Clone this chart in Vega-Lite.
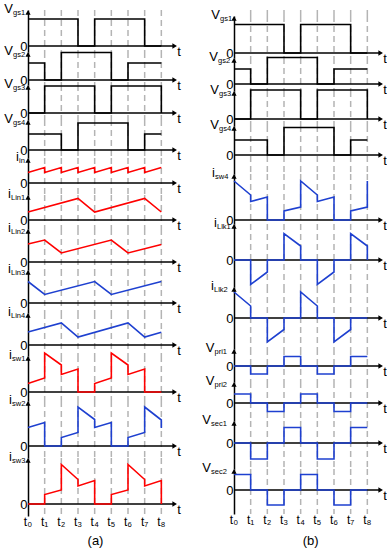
{
"$schema": "https://vega.github.io/schema/vega-lite/v6.json",
"padding": {"left": 4, "top": 3, "right": 0, "bottom": 0},
"config": {
 "view": {"stroke": null},
 "font": "Liberation Sans",
 "axisX": {"disable": true},
 "axisY": {"grid": false, "domain": true, "domainColor": "black", "domainWidth": 1.5, "ticks": false, "labelFontSize": 13, "labelColor": "black", "labelPadding": 1, "labelBaseline": "middle", "labelFont": "Liberation Sans"},
 "text": {"font": "Liberation Sans", "color": "black"},
 "rule": {"color": "black"},
 "concat": {"spacing": 0}
},
"datasets": {
 "ticks": [{"k":1},{"k":2},{"k":3},{"k":4},{"k":5},{"k":6},{"k":7},{"k":8}],
 "tlab": [{"k":0,"lab":"t₀"},{"k":1,"lab":"t₁"},{"k":2,"lab":"t₂"},{"k":3,"lab":"t₃"},{"k":4,"lab":"t₄"},{"k":5,"lab":"t₅"},{"k":6,"lab":"t₆"},{"k":7,"lab":"t₇"},{"k":8,"lab":"t₈"}],
 "a_Vgs1": [{"t":0,"v":2.7},{"t":3,"v":2.7},{"t":3,"v":0},{"t":4,"v":0},{"t":4,"v":2.7},{"t":7,"v":2.7},{"t":7,"v":0},{"t":8,"v":0}],
 "a_Vgs2": [{"t":0,"v":1.7},{"t":1,"v":1.7},{"t":1,"v":0},{"t":2,"v":0},{"t":2,"v":2.75},{"t":5,"v":2.75},{"t":5,"v":0},{"t":6,"v":0},{"t":6,"v":1.7},{"t":8,"v":1.7}],
 "a_Vgs3": [{"t":0,"v":0},{"t":1,"v":0},{"t":1,"v":2.7},{"t":4,"v":2.7},{"t":4,"v":0},{"t":5,"v":0},{"t":5,"v":2.7},{"t":8,"v":2.7},{"t":8,"v":0}],
 "a_Vgs4": [{"t":0,"v":1.6},{"t":2,"v":1.6},{"t":2,"v":0},{"t":3,"v":0},{"t":3,"v":2.7},{"t":6,"v":2.7},{"t":6,"v":0},{"t":7,"v":0},{"t":7,"v":1.6},{"t":8,"v":1.6}],
 "a_iin": [{"t":0,"v":1.05},{"t":1,"v":1.55},{"t":1,"v":1.05},{"t":2,"v":1.55},{"t":2,"v":1.05},{"t":3,"v":1.55},{"t":3,"v":1.05},{"t":4,"v":1.55},{"t":4,"v":1.05},{"t":5,"v":1.55},{"t":5,"v":1.05},{"t":6,"v":1.55},{"t":6,"v":1.05},{"t":7,"v":1.55},{"t":7,"v":1.05},{"t":8,"v":1.55}],
 "a_iLin1": [{"t":0,"v":0.8},{"t":3,"v":2.15},{"t":4,"v":0.8},{"t":7,"v":2.15},{"t":8,"v":0.8}],
 "a_iLin2": [{"t":0,"v":1.8},{"t":1,"v":2.2},{"t":2,"v":0.9},{"t":5,"v":2.2},{"t":6,"v":0.9},{"t":8,"v":1.75}],
 "a_iLin3": [{"t":0,"v":2.15},{"t":1,"v":0.85},{"t":4,"v":2.15},{"t":5,"v":0.85},{"t":8,"v":2.15}],
 "a_iLin4": [{"t":0,"v":1.3},{"t":2,"v":2.2},{"t":3,"v":0.8},{"t":6,"v":2.2},{"t":7,"v":0.8},{"t":8,"v":1.27}],
 "a_isw1": [{"t":0,"v":0.85},{"t":1,"v":1.4},{"t":1,"v":3.9},{"t":2,"v":2.7},{"t":2,"v":1.75},{"t":3,"v":2.3},{"t":3,"v":0},{"t":4,"v":0},{"t":4,"v":0.85},{"t":5,"v":1.4},{"t":5,"v":3.9},{"t":6,"v":2.7},{"t":6,"v":1.75},{"t":7,"v":2.3},{"t":7,"v":0},{"t":8,"v":0}],
 "a_isw2": [{"t":0,"v":1.85},{"t":1,"v":2.35},{"t":1,"v":0},{"t":2,"v":0},{"t":2,"v":0.85},{"t":3,"v":1.35},{"t":3,"v":3.9},{"t":4,"v":2.65},{"t":4,"v":1.85},{"t":5,"v":2.35},{"t":5,"v":0},{"t":6,"v":0},{"t":6,"v":0.85},{"t":7,"v":1.35},{"t":7,"v":3.9},{"t":8,"v":2.6},{"t":8,"v":1.8}],
 "a_isw3": [{"t":0,"v":0},{"t":1,"v":0},{"t":1,"v":0.95},{"t":2,"v":1.4},{"t":2,"v":3.95},{"t":3,"v":2.45},{"t":3,"v":1.8},{"t":4,"v":2.35},{"t":4,"v":0},{"t":5,"v":0},{"t":5,"v":0.95},{"t":6,"v":1.4},{"t":6,"v":3.95},{"t":7,"v":2.45},{"t":7,"v":1.8},{"t":8,"v":2.35},{"t":8,"v":0}],
 "b_Vgs1": [{"t":0,"v":2.85},{"t":3,"v":2.85},{"t":3,"v":0},{"t":4,"v":0},{"t":4,"v":2.85},{"t":7,"v":2.85},{"t":7,"v":0},{"t":8,"v":0}],
 "b_Vgs2": [{"t":0,"v":1.5},{"t":1,"v":1.5},{"t":1,"v":0},{"t":2,"v":0},{"t":2,"v":2.65},{"t":5,"v":2.65},{"t":5,"v":0},{"t":6,"v":0},{"t":6,"v":1.5},{"t":8,"v":1.5}],
 "b_Vgs3": [{"t":0,"v":0},{"t":1,"v":0},{"t":1,"v":2.9},{"t":4,"v":2.9},{"t":4,"v":0},{"t":5,"v":0},{"t":5,"v":2.9},{"t":8,"v":2.9},{"t":8,"v":0}],
 "b_Vgs4": [{"t":0,"v":1.5},{"t":2,"v":1.5},{"t":2,"v":0},{"t":3,"v":0},{"t":3,"v":2.75},{"t":6,"v":2.75},{"t":6,"v":0},{"t":7,"v":0},{"t":7,"v":1.5},{"t":8,"v":1.5}],
 "b_isw4": [{"t":0,"v":3.9},{"t":1,"v":2.5},{"t":1,"v":1.85},{"t":2,"v":2.3},{"t":2,"v":0},{"t":3,"v":0},{"t":3,"v":0.9},{"t":4,"v":1.3},{"t":4,"v":3.9},{"t":5,"v":2.5},{"t":5,"v":1.85},{"t":6,"v":2.3},{"t":6,"v":0},{"t":7,"v":0},{"t":7,"v":0.9},{"t":8,"v":1.3},{"t":8,"v":3.9}],
 "b_iLlk1": [{"t":0,"v":0},{"t":1,"v":0},{"t":1,"v":-2.45},{"t":2,"v":-1.2},{"t":2,"v":0},{"t":3,"v":0},{"t":3,"v":2.65},{"t":4,"v":1.4},{"t":4,"v":0},{"t":5,"v":0},{"t":5,"v":-2.45},{"t":6,"v":-1.2},{"t":6,"v":0},{"t":7,"v":0},{"t":7,"v":2.65},{"t":8,"v":1.4},{"t":8,"v":0}],
 "b_iLlk2": [{"t":0,"v":2.6},{"t":1,"v":1.2},{"t":1,"v":0},{"t":2,"v":0},{"t":2,"v":-2.4},{"t":3,"v":-1.15},{"t":3,"v":0},{"t":4,"v":0},{"t":4,"v":2.6},{"t":5,"v":1.2},{"t":5,"v":0},{"t":6,"v":0},{"t":6,"v":-2.4},{"t":7,"v":-1.15},{"t":7,"v":0},{"t":8,"v":0}],
 "b_Vpri1": [{"t":0,"v":0},{"t":1,"v":0},{"t":1,"v":-0.8},{"t":2,"v":-0.8},{"t":2,"v":0},{"t":3,"v":0},{"t":3,"v":0.95},{"t":4,"v":0.95},{"t":4,"v":0},{"t":5,"v":0},{"t":5,"v":-0.8},{"t":6,"v":-0.8},{"t":6,"v":0},{"t":7,"v":0},{"t":7,"v":0.95},{"t":8,"v":0.95}],
 "b_Vpri2": [{"t":0,"v":0.9},{"t":1,"v":0.9},{"t":1,"v":0},{"t":2,"v":0},{"t":2,"v":-0.85},{"t":3,"v":-0.85},{"t":3,"v":0},{"t":4,"v":0},{"t":4,"v":0.9},{"t":5,"v":0.9},{"t":5,"v":0},{"t":6,"v":0},{"t":6,"v":-0.85},{"t":7,"v":-0.85},{"t":7,"v":0},{"t":8,"v":0}],
 "b_Vsec1": [{"t":0,"v":0},{"t":1,"v":0},{"t":1,"v":-1.6},{"t":2,"v":-1.6},{"t":2,"v":0},{"t":3,"v":0},{"t":3,"v":1.55},{"t":4,"v":1.55},{"t":4,"v":0},{"t":5,"v":0},{"t":5,"v":-1.6},{"t":6,"v":-1.6},{"t":6,"v":0},{"t":7,"v":0},{"t":7,"v":1.55},{"t":8,"v":1.55}],
 "b_Vsec2": [{"t":0,"v":1.55},{"t":1,"v":1.55},{"t":1,"v":0},{"t":2,"v":0},{"t":2,"v":-1.5},{"t":3,"v":-1.5},{"t":3,"v":0},{"t":4,"v":0},{"t":4,"v":1.55},{"t":5,"v":1.55},{"t":5,"v":0},{"t":6,"v":0},{"t":6,"v":-1.5},{"t":7,"v":-1.5},{"t":7,"v":0},{"t":8,"v":0}]
},
"spacing": 21,
"hconcat": [
{"bounds": "flush", "spacing": 0, "vconcat": [
 {"width":150,"height":42,"data":{"values":[{}]},"layer":[
  {"data":{"name":"ticks"},"mark":{"type":"rule","strokeDash":[6,4],"color":"#b4b4b4","strokeWidth":1.5},"encoding":{"x":{"field":"k","type":"quantitative","scale":{"domain":[0,9],"nice":false,"zero":false}}}},
  {"mark":{"type":"rule","strokeWidth":1.5},"encoding":{"x":{"datum":0},"x2":{"datum":8.75},"y":{"datum":0}}},
  {"data":{"name":"a_Vgs1"},"mark":{"type":"line","color":"black","strokeWidth":1.6},"encoding":{"x":{"field":"t","type":"quantitative"},"y":{"field":"v","type":"quantitative","title":null,"scale":{"domain":[-0.6,3.6],"nice":false,"zero":false},"axis":{"values":[0]}}}},
  {"mark":{"type":"point","shape":"triangle-right","filled":true,"color":"black","size":28,"opacity":1},"encoding":{"x":{"datum":8.8},"y":{"datum":0}}},
  {"mark":{"type":"point","shape":"triangle-up","filled":true,"color":"black","size":28,"opacity":1},"encoding":{"x":{"datum":0},"y":{"datum":3.35}}},
  {"mark":{"type":"text","text":"t","fontSize":13,"dx":1,"dy":6},"encoding":{"x":{"datum":9},"y":{"datum":0}}},
  {"mark":{"type":"text","text":"V","fontSize":13,"align":"right","baseline":"alphabetic","dx":-15,"dy":3},"encoding":{"x":{"datum":0},"y":{"datum":3.6}}},
  {"mark":{"type":"text","text":"gs1","fontSize":7.5,"align":"left","baseline":"alphabetic","dx":-15,"dy":5},"encoding":{"x":{"datum":0},"y":{"datum":3.6}}}
 ]},
 {"width":150,"height":33,"data":{"values":[{}]},"layer":[
  {"data":{"name":"ticks"},"mark":{"type":"rule","strokeDash":[6,4],"color":"#b4b4b4","strokeWidth":1.5},"encoding":{"x":{"field":"k","type":"quantitative","scale":{"domain":[0,9],"nice":false,"zero":false}}}},
  {"mark":{"type":"rule","strokeWidth":1.5},"encoding":{"x":{"datum":0},"x2":{"datum":8.75},"y":{"datum":0}}},
  {"data":{"name":"a_Vgs2"},"mark":{"type":"line","color":"black","strokeWidth":1.6},"encoding":{"x":{"field":"t","type":"quantitative"},"y":{"field":"v","type":"quantitative","title":null,"scale":{"domain":[-0.5,2.8],"nice":false,"zero":false},"axis":{"values":[0]}}}},
  {"mark":{"type":"point","shape":"triangle-right","filled":true,"color":"black","size":28,"opacity":1},"encoding":{"x":{"datum":8.8},"y":{"datum":0}}},
  {"mark":{"type":"point","shape":"triangle-up","filled":true,"color":"black","size":28,"opacity":1},"encoding":{"x":{"datum":0},"y":{"datum":2.55}}},
  {"mark":{"type":"text","text":"t","fontSize":13,"dx":1,"dy":6},"encoding":{"x":{"datum":9},"y":{"datum":0}}},
  {"mark":{"type":"text","text":"V","fontSize":13,"align":"right","baseline":"alphabetic","dx":-15,"dy":3},"encoding":{"x":{"datum":0},"y":{"datum":2.8}}},
  {"mark":{"type":"text","text":"gs2","fontSize":7.5,"align":"left","baseline":"alphabetic","dx":-15,"dy":5},"encoding":{"x":{"datum":0},"y":{"datum":2.8}}}
 ]},
 {"width":150,"height":35,"data":{"values":[{}]},"layer":[
  {"data":{"name":"ticks"},"mark":{"type":"rule","strokeDash":[6,4],"color":"#b4b4b4","strokeWidth":1.5},"encoding":{"x":{"field":"k","type":"quantitative","scale":{"domain":[0,9],"nice":false,"zero":false}}}},
  {"mark":{"type":"rule","strokeWidth":1.5},"encoding":{"x":{"datum":0},"x2":{"datum":8.75},"y":{"datum":0}}},
  {"data":{"name":"a_Vgs3"},"mark":{"type":"line","color":"black","strokeWidth":1.6},"encoding":{"x":{"field":"t","type":"quantitative"},"y":{"field":"v","type":"quantitative","title":null,"scale":{"domain":[-0.7,2.8],"nice":false,"zero":false},"axis":{"values":[0]}}}},
  {"mark":{"type":"point","shape":"triangle-right","filled":true,"color":"black","size":28,"opacity":1},"encoding":{"x":{"datum":8.8},"y":{"datum":0}}},
  {"mark":{"type":"point","shape":"triangle-up","filled":true,"color":"black","size":28,"opacity":1},"encoding":{"x":{"datum":0},"y":{"datum":2.55}}},
  {"mark":{"type":"text","text":"t","fontSize":13,"dx":1,"dy":6},"encoding":{"x":{"datum":9},"y":{"datum":0}}},
  {"mark":{"type":"text","text":"V","fontSize":13,"align":"right","baseline":"alphabetic","dx":-15,"dy":3},"encoding":{"x":{"datum":0},"y":{"datum":2.8}}},
  {"mark":{"type":"text","text":"gs3","fontSize":7.5,"align":"left","baseline":"alphabetic","dx":-15,"dy":5},"encoding":{"x":{"datum":0},"y":{"datum":2.8}}}
 ]},
 {"width":150,"height":38,"data":{"values":[{}]},"layer":[
  {"data":{"name":"ticks"},"mark":{"type":"rule","strokeDash":[6,4],"color":"#b4b4b4","strokeWidth":1.5},"encoding":{"x":{"field":"k","type":"quantitative","scale":{"domain":[0,9],"nice":false,"zero":false}}}},
  {"mark":{"type":"rule","strokeWidth":1.5},"encoding":{"x":{"datum":0},"x2":{"datum":8.75},"y":{"datum":0}}},
  {"data":{"name":"a_Vgs4"},"mark":{"type":"line","color":"black","strokeWidth":1.6},"encoding":{"x":{"field":"t","type":"quantitative"},"y":{"field":"v","type":"quantitative","title":null,"scale":{"domain":[-0.8,3.0],"nice":false,"zero":false},"axis":{"values":[0]}}}},
  {"mark":{"type":"point","shape":"triangle-right","filled":true,"color":"black","size":28,"opacity":1},"encoding":{"x":{"datum":8.8},"y":{"datum":0}}},
  {"mark":{"type":"point","shape":"triangle-up","filled":true,"color":"black","size":28,"opacity":1},"encoding":{"x":{"datum":0},"y":{"datum":2.75}}},
  {"mark":{"type":"text","text":"t","fontSize":13,"dx":1,"dy":6},"encoding":{"x":{"datum":9},"y":{"datum":0}}},
  {"mark":{"type":"text","text":"V","fontSize":13,"align":"right","baseline":"alphabetic","dx":-15,"dy":3},"encoding":{"x":{"datum":0},"y":{"datum":3.0}}},
  {"mark":{"type":"text","text":"gs4","fontSize":7.5,"align":"left","baseline":"alphabetic","dx":-15,"dy":5},"encoding":{"x":{"datum":0},"y":{"datum":3.0}}}
 ]},
 {"width":150,"height":37,"data":{"values":[{}]},"layer":[
  {"data":{"name":"ticks"},"mark":{"type":"rule","strokeDash":[6,4],"color":"#b4b4b4","strokeWidth":1.5},"encoding":{"x":{"field":"k","type":"quantitative","scale":{"domain":[0,9],"nice":false,"zero":false}}}},
  {"mark":{"type":"rule","strokeWidth":1.5},"encoding":{"x":{"datum":0},"x2":{"datum":8.75},"y":{"datum":0}}},
  {"data":{"name":"a_iin"},"mark":{"type":"line","color":"#ff0000","strokeWidth":1.6},"encoding":{"x":{"field":"t","type":"quantitative"},"y":{"field":"v","type":"quantitative","title":null,"scale":{"domain":[-1.2,2.5],"nice":false,"zero":false},"axis":{"values":[0]}}}},
  {"mark":{"type":"point","shape":"triangle-right","filled":true,"color":"black","size":28,"opacity":1},"encoding":{"x":{"datum":8.8},"y":{"datum":0}}},
  {"mark":{"type":"point","shape":"triangle-up","filled":true,"color":"black","size":28,"opacity":1},"encoding":{"x":{"datum":0},"y":{"datum":2.25}}},
  {"mark":{"type":"text","text":"t","fontSize":13,"dx":1,"dy":6},"encoding":{"x":{"datum":9},"y":{"datum":0}}},
  {"mark":{"type":"text","text":"i","fontSize":13,"align":"right","baseline":"alphabetic","dx":-9,"dy":3},"encoding":{"x":{"datum":0},"y":{"datum":2.5}}},
  {"mark":{"type":"text","text":"in","fontSize":7.5,"align":"left","baseline":"alphabetic","dx":-9,"dy":5},"encoding":{"x":{"datum":0},"y":{"datum":2.5}}}
 ]},
 {"width":150,"height":34,"data":{"values":[{}]},"layer":[
  {"data":{"name":"ticks"},"mark":{"type":"rule","strokeDash":[6,4],"color":"#b4b4b4","strokeWidth":1.5},"encoding":{"x":{"field":"k","type":"quantitative","scale":{"domain":[0,9],"nice":false,"zero":false}}}},
  {"mark":{"type":"rule","strokeWidth":1.5},"encoding":{"x":{"datum":0},"x2":{"datum":8.75},"y":{"datum":0}}},
  {"data":{"name":"a_iLin1"},"mark":{"type":"line","color":"#ff0000","strokeWidth":1.6},"encoding":{"x":{"field":"t","type":"quantitative"},"y":{"field":"v","type":"quantitative","title":null,"scale":{"domain":[-0.9,2.5],"nice":false,"zero":false},"axis":{"values":[0]}}}},
  {"mark":{"type":"point","shape":"triangle-right","filled":true,"color":"black","size":28,"opacity":1},"encoding":{"x":{"datum":8.8},"y":{"datum":0}}},
  {"mark":{"type":"point","shape":"triangle-up","filled":true,"color":"black","size":28,"opacity":1},"encoding":{"x":{"datum":0},"y":{"datum":2.25}}},
  {"mark":{"type":"text","text":"t","fontSize":13,"dx":1,"dy":6},"encoding":{"x":{"datum":9},"y":{"datum":0}}},
  {"mark":{"type":"text","text":"i","fontSize":13,"align":"right","baseline":"alphabetic","dx":-17,"dy":3},"encoding":{"x":{"datum":0},"y":{"datum":2.5}}},
  {"mark":{"type":"text","text":"Lin1","fontSize":7.5,"align":"left","baseline":"alphabetic","dx":-17,"dy":5},"encoding":{"x":{"datum":0},"y":{"datum":2.5}}}
 ]},
 {"width":150,"height":41,"data":{"values":[{}]},"layer":[
  {"data":{"name":"ticks"},"mark":{"type":"rule","strokeDash":[6,4],"color":"#b4b4b4","strokeWidth":1.5},"encoding":{"x":{"field":"k","type":"quantitative","scale":{"domain":[0,9],"nice":false,"zero":false}}}},
  {"mark":{"type":"rule","strokeWidth":1.5},"encoding":{"x":{"datum":0},"x2":{"datum":8.75},"y":{"datum":0}}},
  {"data":{"name":"a_iLin2"},"mark":{"type":"line","color":"#ff0000","strokeWidth":1.6},"encoding":{"x":{"field":"t","type":"quantitative"},"y":{"field":"v","type":"quantitative","title":null,"scale":{"domain":[-0.8,3.3],"nice":false,"zero":false},"axis":{"values":[0]}}}},
  {"mark":{"type":"point","shape":"triangle-right","filled":true,"color":"black","size":28,"opacity":1},"encoding":{"x":{"datum":8.8},"y":{"datum":0}}},
  {"mark":{"type":"point","shape":"triangle-up","filled":true,"color":"black","size":28,"opacity":1},"encoding":{"x":{"datum":0},"y":{"datum":3.05}}},
  {"mark":{"type":"text","text":"t","fontSize":13,"dx":1,"dy":6},"encoding":{"x":{"datum":9},"y":{"datum":0}}},
  {"mark":{"type":"text","text":"i","fontSize":13,"align":"right","baseline":"alphabetic","dx":-17,"dy":3},"encoding":{"x":{"datum":0},"y":{"datum":3.3}}},
  {"mark":{"type":"text","text":"Lin2","fontSize":7.5,"align":"left","baseline":"alphabetic","dx":-17,"dy":5},"encoding":{"x":{"datum":0},"y":{"datum":3.3}}}
 ]},
 {"width":150,"height":43,"data":{"values":[{}]},"layer":[
  {"data":{"name":"ticks"},"mark":{"type":"rule","strokeDash":[6,4],"color":"#b4b4b4","strokeWidth":1.5},"encoding":{"x":{"field":"k","type":"quantitative","scale":{"domain":[0,9],"nice":false,"zero":false}}}},
  {"mark":{"type":"rule","strokeWidth":1.5},"encoding":{"x":{"datum":0},"x2":{"datum":8.75},"y":{"datum":0}}},
  {"data":{"name":"a_iLin3"},"mark":{"type":"line","color":"#1e40d0","strokeWidth":1.6},"encoding":{"x":{"field":"t","type":"quantitative"},"y":{"field":"v","type":"quantitative","title":null,"scale":{"domain":[-1.0,3.3],"nice":false,"zero":false},"axis":{"values":[0]}}}},
  {"mark":{"type":"point","shape":"triangle-right","filled":true,"color":"black","size":28,"opacity":1},"encoding":{"x":{"datum":8.8},"y":{"datum":0}}},
  {"mark":{"type":"point","shape":"triangle-up","filled":true,"color":"black","size":28,"opacity":1},"encoding":{"x":{"datum":0},"y":{"datum":3.05}}},
  {"mark":{"type":"text","text":"t","fontSize":13,"dx":1,"dy":6},"encoding":{"x":{"datum":9},"y":{"datum":0}}},
  {"mark":{"type":"text","text":"i","fontSize":13,"align":"right","baseline":"alphabetic","dx":-17,"dy":3},"encoding":{"x":{"datum":0},"y":{"datum":3.3}}},
  {"mark":{"type":"text","text":"Lin3","fontSize":7.5,"align":"left","baseline":"alphabetic","dx":-17,"dy":5},"encoding":{"x":{"datum":0},"y":{"datum":3.3}}}
 ]},
 {"width":150,"height":43,"data":{"values":[{}]},"layer":[
  {"data":{"name":"ticks"},"mark":{"type":"rule","strokeDash":[6,4],"color":"#b4b4b4","strokeWidth":1.5},"encoding":{"x":{"field":"k","type":"quantitative","scale":{"domain":[0,9],"nice":false,"zero":false}}}},
  {"mark":{"type":"rule","strokeWidth":1.5},"encoding":{"x":{"datum":0},"x2":{"datum":8.75},"y":{"datum":0}}},
  {"data":{"name":"a_iLin4"},"mark":{"type":"line","color":"#1e40d0","strokeWidth":1.6},"encoding":{"x":{"field":"t","type":"quantitative"},"y":{"field":"v","type":"quantitative","title":null,"scale":{"domain":[-1.1,3.2],"nice":false,"zero":false},"axis":{"values":[0]}}}},
  {"mark":{"type":"point","shape":"triangle-right","filled":true,"color":"black","size":28,"opacity":1},"encoding":{"x":{"datum":8.8},"y":{"datum":0}}},
  {"mark":{"type":"point","shape":"triangle-up","filled":true,"color":"black","size":28,"opacity":1},"encoding":{"x":{"datum":0},"y":{"datum":2.95}}},
  {"mark":{"type":"text","text":"t","fontSize":13,"dx":1,"dy":6},"encoding":{"x":{"datum":9},"y":{"datum":0}}},
  {"mark":{"type":"text","text":"i","fontSize":13,"align":"right","baseline":"alphabetic","dx":-17,"dy":3},"encoding":{"x":{"datum":0},"y":{"datum":3.2}}},
  {"mark":{"type":"text","text":"Lin4","fontSize":7.5,"align":"left","baseline":"alphabetic","dx":-17,"dy":5},"encoding":{"x":{"datum":0},"y":{"datum":3.2}}}
 ]},
 {"width":150,"height":45,"data":{"values":[{}]},"layer":[
  {"data":{"name":"ticks"},"mark":{"type":"rule","strokeDash":[6,4],"color":"#b4b4b4","strokeWidth":1.5},"encoding":{"x":{"field":"k","type":"quantitative","scale":{"domain":[0,9],"nice":false,"zero":false}}}},
  {"mark":{"type":"rule","strokeWidth":1.5},"encoding":{"x":{"datum":0},"x2":{"datum":8.75},"y":{"datum":0}}},
  {"data":{"name":"a_isw1"},"mark":{"type":"line","color":"#ff0000","strokeWidth":1.6},"encoding":{"x":{"field":"t","type":"quantitative"},"y":{"field":"v","type":"quantitative","title":null,"scale":{"domain":[-0.9,3.6],"nice":false,"zero":false},"axis":{"values":[0]}}}},
  {"mark":{"type":"point","shape":"triangle-right","filled":true,"color":"black","size":28,"opacity":1},"encoding":{"x":{"datum":8.8},"y":{"datum":0}}},
  {"mark":{"type":"point","shape":"triangle-up","filled":true,"color":"black","size":28,"opacity":1},"encoding":{"x":{"datum":0},"y":{"datum":3.35}}},
  {"mark":{"type":"text","text":"t","fontSize":13,"dx":1,"dy":6},"encoding":{"x":{"datum":9},"y":{"datum":0}}},
  {"mark":{"type":"text","text":"i","fontSize":13,"align":"right","baseline":"alphabetic","dx":-16,"dy":3},"encoding":{"x":{"datum":0},"y":{"datum":3.6}}},
  {"mark":{"type":"text","text":"sw1","fontSize":7.5,"align":"left","baseline":"alphabetic","dx":-16,"dy":5},"encoding":{"x":{"datum":0},"y":{"datum":3.6}}}
 ]},
 {"width":150,"height":57,"data":{"values":[{}]},"layer":[
  {"data":{"name":"ticks"},"mark":{"type":"rule","strokeDash":[6,4],"color":"#b4b4b4","strokeWidth":1.5},"encoding":{"x":{"field":"k","type":"quantitative","scale":{"domain":[0,9],"nice":false,"zero":false}}}},
  {"mark":{"type":"rule","strokeWidth":1.5},"encoding":{"x":{"datum":0},"x2":{"datum":8.75},"y":{"datum":0}}},
  {"data":{"name":"a_isw2"},"mark":{"type":"line","color":"#1e40d0","strokeWidth":1.6},"encoding":{"x":{"field":"t","type":"quantitative"},"y":{"field":"v","type":"quantitative","title":null,"scale":{"domain":[-1.2,4.5],"nice":false,"zero":false},"axis":{"values":[0]}}}},
  {"mark":{"type":"point","shape":"triangle-right","filled":true,"color":"black","size":28,"opacity":1},"encoding":{"x":{"datum":8.8},"y":{"datum":0}}},
  {"mark":{"type":"point","shape":"triangle-up","filled":true,"color":"black","size":28,"opacity":1},"encoding":{"x":{"datum":0},"y":{"datum":4.25}}},
  {"mark":{"type":"text","text":"t","fontSize":13,"dx":1,"dy":6},"encoding":{"x":{"datum":9},"y":{"datum":0}}},
  {"mark":{"type":"text","text":"i","fontSize":13,"align":"right","baseline":"alphabetic","dx":-16,"dy":3},"encoding":{"x":{"datum":0},"y":{"datum":4.5}}},
  {"mark":{"type":"text","text":"sw2","fontSize":7.5,"align":"left","baseline":"alphabetic","dx":-16,"dy":5},"encoding":{"x":{"datum":0},"y":{"datum":4.5}}}
 ]},
 {"width":150,"height":58,"data":{"values":[{}]},"layer":[
  {"data":{"name":"ticks"},"mark":{"type":"rule","strokeDash":[6,4],"color":"#b4b4b4","strokeWidth":1.5},"encoding":{"x":{"field":"k","type":"quantitative","scale":{"domain":[0,9],"nice":false,"zero":false}}}},
  {"mark":{"type":"rule","strokeWidth":1.5},"encoding":{"x":{"datum":0},"x2":{"datum":8.75},"y":{"datum":0}}},
  {"data":{"name":"a_isw3"},"mark":{"type":"line","color":"#ff0000","strokeWidth":1.6},"encoding":{"x":{"field":"t","type":"quantitative"},"y":{"field":"v","type":"quantitative","title":null,"scale":{"domain":[-1.2,4.6],"nice":false,"zero":false},"axis":{"values":[0]}}}},
  {"mark":{"type":"point","shape":"triangle-right","filled":true,"color":"black","size":28,"opacity":1},"encoding":{"x":{"datum":8.8},"y":{"datum":0}}},
  {"mark":{"type":"point","shape":"triangle-up","filled":true,"color":"black","size":28,"opacity":1},"encoding":{"x":{"datum":0},"y":{"datum":4.35}}},
  {"mark":{"type":"text","text":"t","fontSize":13,"dx":1,"dy":6},"encoding":{"x":{"datum":9},"y":{"datum":0}}},
  {"mark":{"type":"text","text":"i","fontSize":13,"align":"right","baseline":"alphabetic","dx":-16,"dy":3},"encoding":{"x":{"datum":0},"y":{"datum":4.6}}},
  {"mark":{"type":"text","text":"sw3","fontSize":7.5,"align":"left","baseline":"alphabetic","dx":-16,"dy":5},"encoding":{"x":{"datum":0},"y":{"datum":4.6}}},
  {"data":{"name":"tlab"},"mark":{"type":"text","fontSize":12,"baseline":"top","dy":1},"encoding":{"x":{"field":"k","type":"quantitative"},"y":{"datum":-1.2},"text":{"field":"lab"}}},
  {"mark":{"type":"text","text":"(a)","fontSize":13,"baseline":"middle","dy":25},"encoding":{"x":{"datum":4.05},"y":{"datum":-1.2}}}
 ]}
]},
{"bounds": "flush", "spacing": 0, "vconcat": [
 {"width":150,"height":6,"data":{"name":"ticks"},"mark":{"type":"rule","strokeDash":[6,4],"color":"#b4b4b4","strokeWidth":1.5},"encoding":{"x":{"field":"k","type":"quantitative","scale":{"domain":[0,9],"nice":false,"zero":false}}}},
 {"width":150,"height":42,"data":{"values":[{}]},"layer":[
  {"data":{"name":"ticks"},"mark":{"type":"rule","strokeDash":[6,4],"color":"#b4b4b4","strokeWidth":1.5},"encoding":{"x":{"field":"k","type":"quantitative","scale":{"domain":[0,9],"nice":false,"zero":false}}}},
  {"mark":{"type":"rule","strokeWidth":1.5},"encoding":{"x":{"datum":0},"x2":{"datum":8.75},"y":{"datum":0}}},
  {"data":{"name":"b_Vgs1"},"mark":{"type":"line","color":"black","strokeWidth":1.6},"encoding":{"x":{"field":"t","type":"quantitative"},"y":{"field":"v","type":"quantitative","title":null,"scale":{"domain":[-0.5,3.7],"nice":false,"zero":false},"axis":{"values":[0]}}}},
  {"mark":{"type":"point","shape":"triangle-right","filled":true,"color":"black","size":28,"opacity":1},"encoding":{"x":{"datum":8.8},"y":{"datum":0}}},
  {"mark":{"type":"point","shape":"triangle-up","filled":true,"color":"black","size":28,"opacity":1},"encoding":{"x":{"datum":0},"y":{"datum":3.45}}},
  {"mark":{"type":"text","text":"t","fontSize":13,"dx":1,"dy":6},"encoding":{"x":{"datum":9},"y":{"datum":0}}},
  {"mark":{"type":"text","text":"V","fontSize":13,"align":"right","baseline":"alphabetic","dx":-14,"dy":3},"encoding":{"x":{"datum":0},"y":{"datum":3.7}}},
  {"mark":{"type":"text","text":"gs1","fontSize":7.5,"align":"left","baseline":"alphabetic","dx":-14,"dy":5},"encoding":{"x":{"datum":0},"y":{"datum":3.7}}}
 ]},
 {"width":150,"height":33,"data":{"values":[{}]},"layer":[
  {"data":{"name":"ticks"},"mark":{"type":"rule","strokeDash":[6,4],"color":"#b4b4b4","strokeWidth":1.5},"encoding":{"x":{"field":"k","type":"quantitative","scale":{"domain":[0,9],"nice":false,"zero":false}}}},
  {"mark":{"type":"rule","strokeWidth":1.5},"encoding":{"x":{"datum":0},"x2":{"datum":8.75},"y":{"datum":0}}},
  {"data":{"name":"b_Vgs2"},"mark":{"type":"line","color":"black","strokeWidth":1.6},"encoding":{"x":{"field":"t","type":"quantitative"},"y":{"field":"v","type":"quantitative","title":null,"scale":{"domain":[-0.7,2.6],"nice":false,"zero":false},"axis":{"values":[0]}}}},
  {"mark":{"type":"point","shape":"triangle-right","filled":true,"color":"black","size":28,"opacity":1},"encoding":{"x":{"datum":8.8},"y":{"datum":0}}},
  {"mark":{"type":"point","shape":"triangle-up","filled":true,"color":"black","size":28,"opacity":1},"encoding":{"x":{"datum":0},"y":{"datum":2.35}}},
  {"mark":{"type":"text","text":"t","fontSize":13,"dx":1,"dy":6},"encoding":{"x":{"datum":9},"y":{"datum":0}}},
  {"mark":{"type":"text","text":"V","fontSize":13,"align":"right","baseline":"alphabetic","dx":-16,"dy":3},"encoding":{"x":{"datum":0},"y":{"datum":2.6}}},
  {"mark":{"type":"text","text":"gs2","fontSize":7.5,"align":"left","baseline":"alphabetic","dx":-16,"dy":5},"encoding":{"x":{"datum":0},"y":{"datum":2.6}}}
 ]},
 {"width":150,"height":35,"data":{"values":[{}]},"layer":[
  {"data":{"name":"ticks"},"mark":{"type":"rule","strokeDash":[6,4],"color":"#b4b4b4","strokeWidth":1.5},"encoding":{"x":{"field":"k","type":"quantitative","scale":{"domain":[0,9],"nice":false,"zero":false}}}},
  {"mark":{"type":"rule","strokeWidth":1.5},"encoding":{"x":{"datum":0},"x2":{"datum":8.75},"y":{"datum":0}}},
  {"data":{"name":"b_Vgs3"},"mark":{"type":"line","color":"black","strokeWidth":1.6},"encoding":{"x":{"field":"t","type":"quantitative"},"y":{"field":"v","type":"quantitative","title":null,"scale":{"domain":[-0.7,2.8],"nice":false,"zero":false},"axis":{"values":[0]}}}},
  {"mark":{"type":"point","shape":"triangle-right","filled":true,"color":"black","size":28,"opacity":1},"encoding":{"x":{"datum":8.8},"y":{"datum":0}}},
  {"mark":{"type":"point","shape":"triangle-up","filled":true,"color":"black","size":28,"opacity":1},"encoding":{"x":{"datum":0},"y":{"datum":2.55}}},
  {"mark":{"type":"text","text":"t","fontSize":13,"dx":1,"dy":6},"encoding":{"x":{"datum":9},"y":{"datum":0}}},
  {"mark":{"type":"text","text":"V","fontSize":13,"align":"right","baseline":"alphabetic","dx":-15,"dy":3},"encoding":{"x":{"datum":0},"y":{"datum":2.8}}},
  {"mark":{"type":"text","text":"gs3","fontSize":7.5,"align":"left","baseline":"alphabetic","dx":-15,"dy":5},"encoding":{"x":{"datum":0},"y":{"datum":2.8}}}
 ]},
 {"width":150,"height":48,"data":{"values":[{}]},"layer":[
  {"data":{"name":"ticks"},"mark":{"type":"rule","strokeDash":[6,4],"color":"#b4b4b4","strokeWidth":1.5},"encoding":{"x":{"field":"k","type":"quantitative","scale":{"domain":[0,9],"nice":false,"zero":false}}}},
  {"mark":{"type":"rule","strokeWidth":1.5},"encoding":{"x":{"datum":0},"x2":{"datum":8.75},"y":{"datum":0}}},
  {"data":{"name":"b_Vgs4"},"mark":{"type":"line","color":"black","strokeWidth":1.6},"encoding":{"x":{"field":"t","type":"quantitative"},"y":{"field":"v","type":"quantitative","title":null,"scale":{"domain":[-1.9,2.9],"nice":false,"zero":false},"axis":{"values":[0]}}}},
  {"mark":{"type":"point","shape":"triangle-right","filled":true,"color":"black","size":28,"opacity":1},"encoding":{"x":{"datum":8.8},"y":{"datum":0}}},
  {"mark":{"type":"point","shape":"triangle-up","filled":true,"color":"black","size":28,"opacity":1},"encoding":{"x":{"datum":0},"y":{"datum":2.65}}},
  {"mark":{"type":"text","text":"t","fontSize":13,"dx":1,"dy":6},"encoding":{"x":{"datum":9},"y":{"datum":0}}},
  {"mark":{"type":"text","text":"V","fontSize":13,"align":"right","baseline":"alphabetic","dx":-15,"dy":3},"encoding":{"x":{"datum":0},"y":{"datum":2.9}}},
  {"mark":{"type":"text","text":"gs4","fontSize":7.5,"align":"left","baseline":"alphabetic","dx":-15,"dy":5},"encoding":{"x":{"datum":0},"y":{"datum":2.9}}}
 ]},
 {"width":150,"height":50,"data":{"values":[{}]},"layer":[
  {"data":{"name":"ticks"},"mark":{"type":"rule","strokeDash":[6,4],"color":"#b4b4b4","strokeWidth":1.5},"encoding":{"x":{"field":"k","type":"quantitative","scale":{"domain":[0,9],"nice":false,"zero":false}}}},
  {"mark":{"type":"rule","strokeWidth":1.5},"encoding":{"x":{"datum":0},"x2":{"datum":8.75},"y":{"datum":0}}},
  {"data":{"name":"b_isw4"},"mark":{"type":"line","color":"#1e40d0","strokeWidth":1.6},"encoding":{"x":{"field":"t","type":"quantitative"},"y":{"field":"v","type":"quantitative","title":null,"scale":{"domain":[-0.4,4.6],"nice":false,"zero":false},"axis":{"values":[0]}}}},
  {"mark":{"type":"point","shape":"triangle-right","filled":true,"color":"black","size":28,"opacity":1},"encoding":{"x":{"datum":8.8},"y":{"datum":0}}},
  {"mark":{"type":"point","shape":"triangle-up","filled":true,"color":"black","size":28,"opacity":1},"encoding":{"x":{"datum":0},"y":{"datum":4.35}}},
  {"mark":{"type":"text","text":"t","fontSize":13,"dx":1,"dy":6},"encoding":{"x":{"datum":9},"y":{"datum":0}}},
  {"mark":{"type":"text","text":"i","fontSize":13,"align":"right","baseline":"alphabetic","dx":-19,"dy":3},"encoding":{"x":{"datum":0},"y":{"datum":4.6}}},
  {"mark":{"type":"text","text":"sw4","fontSize":7.5,"align":"left","baseline":"alphabetic","dx":-19,"dy":5},"encoding":{"x":{"datum":0},"y":{"datum":4.6}}}
 ]},
 {"width":150,"height":63,"data":{"values":[{}]},"layer":[
  {"data":{"name":"ticks"},"mark":{"type":"rule","strokeDash":[6,4],"color":"#b4b4b4","strokeWidth":1.5},"encoding":{"x":{"field":"k","type":"quantitative","scale":{"domain":[0,9],"nice":false,"zero":false}}}},
  {"mark":{"type":"rule","strokeWidth":1.5},"encoding":{"x":{"datum":0},"x2":{"datum":8.75},"y":{"datum":0}}},
  {"data":{"name":"b_iLlk1"},"mark":{"type":"line","color":"#1e40d0","strokeWidth":1.6},"encoding":{"x":{"field":"t","type":"quantitative"},"y":{"field":"v","type":"quantitative","title":null,"scale":{"domain":[-2.7,3.6],"nice":false,"zero":false},"axis":{"values":[0]}}}},
  {"mark":{"type":"point","shape":"triangle-right","filled":true,"color":"black","size":28,"opacity":1},"encoding":{"x":{"datum":8.8},"y":{"datum":0}}},
  {"mark":{"type":"point","shape":"triangle-up","filled":true,"color":"black","size":28,"opacity":1},"encoding":{"x":{"datum":0},"y":{"datum":3.35}}},
  {"mark":{"type":"text","text":"t","fontSize":13,"dx":1,"dy":6},"encoding":{"x":{"datum":9},"y":{"datum":0}}},
  {"mark":{"type":"text","text":"i","fontSize":13,"align":"right","baseline":"alphabetic","dx":-17,"dy":3},"encoding":{"x":{"datum":0},"y":{"datum":3.6}}},
  {"mark":{"type":"text","text":"Llk1","fontSize":7.5,"align":"left","baseline":"alphabetic","dx":-17,"dy":5},"encoding":{"x":{"datum":0},"y":{"datum":3.6}}}
 ]},
 {"width":150,"height":62,"data":{"values":[{}]},"layer":[
  {"data":{"name":"ticks"},"mark":{"type":"rule","strokeDash":[6,4],"color":"#b4b4b4","strokeWidth":1.5},"encoding":{"x":{"field":"k","type":"quantitative","scale":{"domain":[0,9],"nice":false,"zero":false}}}},
  {"mark":{"type":"rule","strokeWidth":1.5},"encoding":{"x":{"datum":0},"x2":{"datum":8.75},"y":{"datum":0}}},
  {"data":{"name":"b_iLlk2"},"mark":{"type":"line","color":"#1e40d0","strokeWidth":1.6},"encoding":{"x":{"field":"t","type":"quantitative"},"y":{"field":"v","type":"quantitative","title":null,"scale":{"domain":[-3.1,3.1],"nice":false,"zero":false},"axis":{"values":[0]}}}},
  {"mark":{"type":"point","shape":"triangle-right","filled":true,"color":"black","size":28,"opacity":1},"encoding":{"x":{"datum":8.8},"y":{"datum":0}}},
  {"mark":{"type":"point","shape":"triangle-up","filled":true,"color":"black","size":28,"opacity":1},"encoding":{"x":{"datum":0},"y":{"datum":2.85}}},
  {"mark":{"type":"text","text":"t","fontSize":13,"dx":1,"dy":6},"encoding":{"x":{"datum":9},"y":{"datum":0}}},
  {"mark":{"type":"text","text":"i","fontSize":13,"align":"right","baseline":"alphabetic","dx":-20,"dy":3},"encoding":{"x":{"datum":0},"y":{"datum":3.1}}},
  {"mark":{"type":"text","text":"Llk2","fontSize":7.5,"align":"left","baseline":"alphabetic","dx":-20,"dy":5},"encoding":{"x":{"datum":0},"y":{"datum":3.1}}}
 ]},
 {"width":150,"height":33,"data":{"values":[{}]},"layer":[
  {"data":{"name":"ticks"},"mark":{"type":"rule","strokeDash":[6,4],"color":"#b4b4b4","strokeWidth":1.5},"encoding":{"x":{"field":"k","type":"quantitative","scale":{"domain":[0,9],"nice":false,"zero":false}}}},
  {"mark":{"type":"rule","strokeWidth":1.5},"encoding":{"x":{"datum":0},"x2":{"datum":8.75},"y":{"datum":0}}},
  {"data":{"name":"b_Vpri1"},"mark":{"type":"line","color":"#1e40d0","strokeWidth":1.6},"encoding":{"x":{"field":"t","type":"quantitative"},"y":{"field":"v","type":"quantitative","title":null,"scale":{"domain":[-1.6,1.7],"nice":false,"zero":false},"axis":{"values":[0]}}}},
  {"mark":{"type":"point","shape":"triangle-right","filled":true,"color":"black","size":28,"opacity":1},"encoding":{"x":{"datum":8.8},"y":{"datum":0}}},
  {"mark":{"type":"point","shape":"triangle-up","filled":true,"color":"black","size":28,"opacity":1},"encoding":{"x":{"datum":0},"y":{"datum":1.45}}},
  {"mark":{"type":"text","text":"t","fontSize":13,"dx":1,"dy":6},"encoding":{"x":{"datum":9},"y":{"datum":0}}},
  {"mark":{"type":"text","text":"V","fontSize":13,"align":"right","baseline":"alphabetic","dx":-19.5,"dy":3},"encoding":{"x":{"datum":0},"y":{"datum":1.7}}},
  {"mark":{"type":"text","text":"pri1","fontSize":7.5,"align":"left","baseline":"alphabetic","dx":-19.5,"dy":5},"encoding":{"x":{"datum":0},"y":{"datum":1.7}}}
 ]},
 {"width":150,"height":39,"data":{"values":[{}]},"layer":[
  {"data":{"name":"ticks"},"mark":{"type":"rule","strokeDash":[6,4],"color":"#b4b4b4","strokeWidth":1.5},"encoding":{"x":{"field":"k","type":"quantitative","scale":{"domain":[0,9],"nice":false,"zero":false}}}},
  {"mark":{"type":"rule","strokeWidth":1.5},"encoding":{"x":{"datum":0},"x2":{"datum":8.75},"y":{"datum":0}}},
  {"data":{"name":"b_Vpri2"},"mark":{"type":"line","color":"#1e40d0","strokeWidth":1.6},"encoding":{"x":{"field":"t","type":"quantitative"},"y":{"field":"v","type":"quantitative","title":null,"scale":{"domain":[-1.8,2.1],"nice":false,"zero":false},"axis":{"values":[0]}}}},
  {"mark":{"type":"point","shape":"triangle-right","filled":true,"color":"black","size":28,"opacity":1},"encoding":{"x":{"datum":8.8},"y":{"datum":0}}},
  {"mark":{"type":"point","shape":"triangle-up","filled":true,"color":"black","size":28,"opacity":1},"encoding":{"x":{"datum":0},"y":{"datum":1.85}}},
  {"mark":{"type":"text","text":"t","fontSize":13,"dx":1,"dy":6},"encoding":{"x":{"datum":9},"y":{"datum":0}}},
  {"mark":{"type":"text","text":"V","fontSize":13,"align":"right","baseline":"alphabetic","dx":-19.5,"dy":3},"encoding":{"x":{"datum":0},"y":{"datum":2.1}}},
  {"mark":{"type":"text","text":"pri2","fontSize":7.5,"align":"left","baseline":"alphabetic","dx":-19.5,"dy":5},"encoding":{"x":{"datum":0},"y":{"datum":2.1}}}
 ]},
 {"width":150,"height":48,"data":{"values":[{}]},"layer":[
  {"data":{"name":"ticks"},"mark":{"type":"rule","strokeDash":[6,4],"color":"#b4b4b4","strokeWidth":1.5},"encoding":{"x":{"field":"k","type":"quantitative","scale":{"domain":[0,9],"nice":false,"zero":false}}}},
  {"mark":{"type":"rule","strokeWidth":1.5},"encoding":{"x":{"datum":0},"x2":{"datum":8.75},"y":{"datum":0}}},
  {"data":{"name":"b_Vsec1"},"mark":{"type":"line","color":"#1e40d0","strokeWidth":1.6},"encoding":{"x":{"field":"t","type":"quantitative"},"y":{"field":"v","type":"quantitative","title":null,"scale":{"domain":[-2.6,2.2],"nice":false,"zero":false},"axis":{"values":[0]}}}},
  {"mark":{"type":"point","shape":"triangle-right","filled":true,"color":"black","size":28,"opacity":1},"encoding":{"x":{"datum":8.8},"y":{"datum":0}}},
  {"mark":{"type":"point","shape":"triangle-up","filled":true,"color":"black","size":28,"opacity":1},"encoding":{"x":{"datum":0},"y":{"datum":1.95}}},
  {"mark":{"type":"text","text":"t","fontSize":13,"dx":1,"dy":6},"encoding":{"x":{"datum":9},"y":{"datum":0}}},
  {"mark":{"type":"text","text":"V","fontSize":13,"align":"right","baseline":"alphabetic","dx":-23,"dy":3},"encoding":{"x":{"datum":0},"y":{"datum":2.2}}},
  {"mark":{"type":"text","text":"sec1","fontSize":7.5,"align":"left","baseline":"alphabetic","dx":-23,"dy":5},"encoding":{"x":{"datum":0},"y":{"datum":2.2}}}
 ]},
 {"width":150,"height":45,"data":{"values":[{}]},"layer":[
  {"data":{"name":"ticks"},"mark":{"type":"rule","strokeDash":[6,4],"color":"#b4b4b4","strokeWidth":1.5},"encoding":{"x":{"field":"k","type":"quantitative","scale":{"domain":[0,9],"nice":false,"zero":false}}}},
  {"mark":{"type":"rule","strokeWidth":1.5},"encoding":{"x":{"datum":0},"x2":{"datum":8.75},"y":{"datum":0}}},
  {"data":{"name":"b_Vsec2"},"mark":{"type":"line","color":"#1e40d0","strokeWidth":1.6},"encoding":{"x":{"field":"t","type":"quantitative"},"y":{"field":"v","type":"quantitative","title":null,"scale":{"domain":[-2.4,2.1],"nice":false,"zero":false},"axis":{"values":[0]}}}},
  {"mark":{"type":"point","shape":"triangle-right","filled":true,"color":"black","size":28,"opacity":1},"encoding":{"x":{"datum":8.8},"y":{"datum":0}}},
  {"mark":{"type":"point","shape":"triangle-up","filled":true,"color":"black","size":28,"opacity":1},"encoding":{"x":{"datum":0},"y":{"datum":1.85}}},
  {"mark":{"type":"text","text":"t","fontSize":13,"dx":1,"dy":6},"encoding":{"x":{"datum":9},"y":{"datum":0}}},
  {"mark":{"type":"text","text":"V","fontSize":13,"align":"right","baseline":"alphabetic","dx":-23,"dy":3},"encoding":{"x":{"datum":0},"y":{"datum":2.1}}},
  {"mark":{"type":"text","text":"sec2","fontSize":7.5,"align":"left","baseline":"alphabetic","dx":-23,"dy":5},"encoding":{"x":{"datum":0},"y":{"datum":2.1}}},
  {"data":{"name":"tlab"},"mark":{"type":"text","fontSize":12,"baseline":"top","dy":1},"encoding":{"x":{"field":"k","type":"quantitative"},"y":{"datum":-2.4},"text":{"field":"lab"}}},
  {"mark":{"type":"text","text":"(b)","fontSize":13,"baseline":"middle","dy":27},"encoding":{"x":{"datum":4.6},"y":{"datum":-2.4}}}
 ]}
]}
]
}
